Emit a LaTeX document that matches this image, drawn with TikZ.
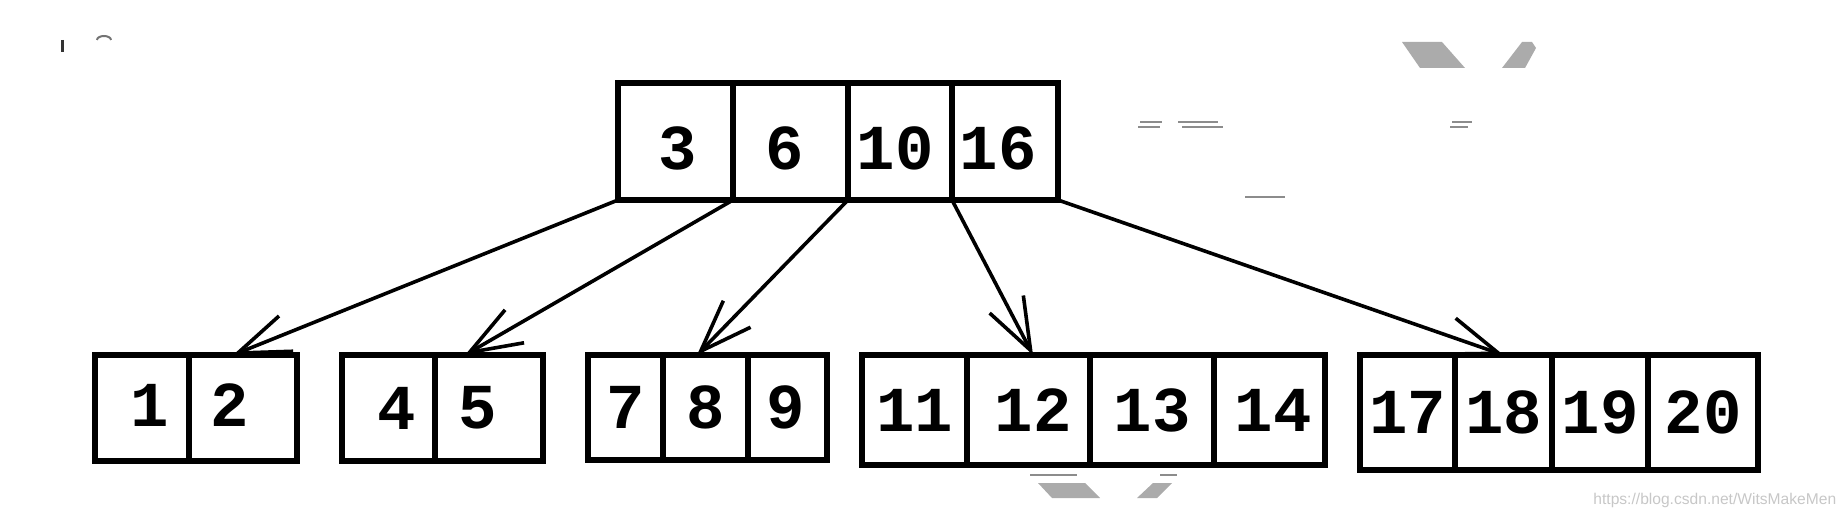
\documentclass[tikz,border=0pt]{standalone}
\usepackage{fontspec}
\newfontfamily\numfont{Liberation Mono}
\newfontfamily\wmfont{Liberation Sans}
\usetikzlibrary{arrows.meta}
\begin{document}
\begin{tikzpicture}[x=0.5pt,y=-0.5pt,
  cell/.style={draw, line width=2.6pt, rectangle, inner sep=0pt, outer sep=0pt},
  num/.style={font=\numfont\bfseries\fontsize{32}{32}\selectfont, inner sep=0pt, outer sep=0pt},
  link/.style={line width=1.8pt, -{Straight Barb[length=26pt,width=19pt]}},
  junk/.style={fill=black!33, draw=none},
  scratch/.style={draw=black!45, line width=0.6pt}]
\useasboundingbox (0,0) rectangle (1846,518);

% root node
\node[cell, minimum width=57.5pt, minimum height=58.5pt, label={[num,xshift=1.25pt,yshift=-3.25pt]center:3}] (r1) at (675.5,141.5) {};
\node[cell, minimum width=57.5pt, minimum height=58.5pt, label={[num,xshift=-2.75pt,yshift=-3.25pt]center:6}] (r2) at (790.5,141.5) {};
\node[cell, minimum width=52pt, minimum height=58.5pt, label={[num,xshift=-2.5pt,yshift=-3.25pt]center:10}] (r3) at (900,141.5) {};
\node[cell, minimum width=53pt, minimum height=58.5pt, label={[num,xshift=-3.5pt,yshift=-3.25pt]center:16}] (r4) at (1005,141.5) {};

% leaf 1
\node[cell, minimum width=47pt, minimum height=53pt, label={[num,xshift=4pt,yshift=1.5pt]center:1}] (l1a) at (142,408) {};
\node[cell, minimum width=54pt, minimum height=53pt, label={[num,xshift=-6.5pt,yshift=1.5pt]center:2}] (l1b) at (243,408) {};
% leaf 2
\node[cell, minimum width=46.5pt, minimum height=53pt, label={[num,xshift=4.25pt]center:4}] (l2a) at (388.5,408) {};
\node[cell, minimum width=54pt, minimum height=53pt, label={[num,xshift=-5.5pt]center:5}] (l2b) at (489,408) {};
% leaf 3
\node[cell, minimum width=37.5pt, minimum height=52.5pt, label={[num]center:7}] (l3a) at (625.5,407.5) {};
\node[cell, minimum width=42.5pt, minimum height=52.5pt, label={[num]center:8}] (l3b) at (705.5,407.5) {};
\node[cell, minimum width=39.5pt, minimum height=52.5pt, label={[num,xshift=-1pt]center:9}] (l3c) at (787.5,407.5) {};
% leaf 4
\node[cell, minimum width=52.5pt, minimum height=55pt, label={[num]center:11}] (l4a) at (914.5,410) {};
\node[cell, minimum width=61.5pt, minimum height=55pt, label={[num,xshift=2.25pt]center:12}] (l4b) at (1028.5,410) {};
\node[cell, minimum width=62pt, minimum height=55pt, label={[num]center:13}] (l4c) at (1152,410) {};
\node[cell, minimum width=55.5pt, minimum height=55pt, label={[num,xshift=1.75pt]center:14}] (l4d) at (1269.5,410) {};
% leaf 5
\node[cell, minimum width=47.5pt, minimum height=57.5pt, label={[num]center:17}] (l5a) at (1407.5,412.5) {};
\node[cell, minimum width=48.5pt, minimum height=57.5pt, label={[num]center:18}] (l5b) at (1503.5,412.5) {};
\node[cell, minimum width=48pt, minimum height=57.5pt, label={[num]center:19}] (l5c) at (1600,412.5) {};
\node[cell, minimum width=55pt, minimum height=57.5pt, label={[num]center:20}] (l5d) at (1703,412.5) {};

% pointers
\draw[link] (r1.south west) -- ([xshift=-5pt]l1b.north);
\draw[link] (r1.south east) -- ([xshift=-12pt]l2b.north);
\draw[link] (r2.south east) -- ([xshift=-4.25pt]l3b.north);
\draw[link] (r3.south east) -- ([xshift=2.25pt]l4b.north);
\draw[link] (r4.south east) -- (l5b.north);

% watermark text
\node[anchor=west, inner sep=0pt, text=black!22, font=\wmfont\fontsize{7.8}{8}\selectfont] (wm) at (1593,500) {https://blog.csdn.net/WitsMakeMen};

% scan residue
\fill[junk] (1402,42) -- (1442,42) -- (1465,68) -- (1420,68) -- cycle;
\fill[junk] (1522,42) -- (1532,42) -- (1536,48) -- (1525,68) -- (1502,68) -- cycle;
\fill[junk] (1038,483) -- (1085,483) -- (1100,498) -- (1052,498) -- cycle;
\fill[junk] (1153,483) -- (1172,483) -- (1157,498) -- (1137,498) -- cycle;
\draw[scratch] (1140,122) -- (1162,122) (1138,127) -- (1160,127);
\draw[scratch] (1178,122) -- (1218,122) (1182,127) -- (1223,127);
\draw[scratch] (1452,122) -- (1472,122) (1450,127) -- (1468,127);
\draw[scratch] (1245,197) -- (1285,197);
\draw[scratch] (1030,475) -- (1077,475) (1160,475) -- (1177,475);
\draw[line width=1.5pt, black!80] (62,40) -- (62,52);
\draw[line width=1pt, black!55] (97,40) arc[start angle=180, end angle=360, x radius=7, y radius=4];
\end{tikzpicture}
\end{document}
